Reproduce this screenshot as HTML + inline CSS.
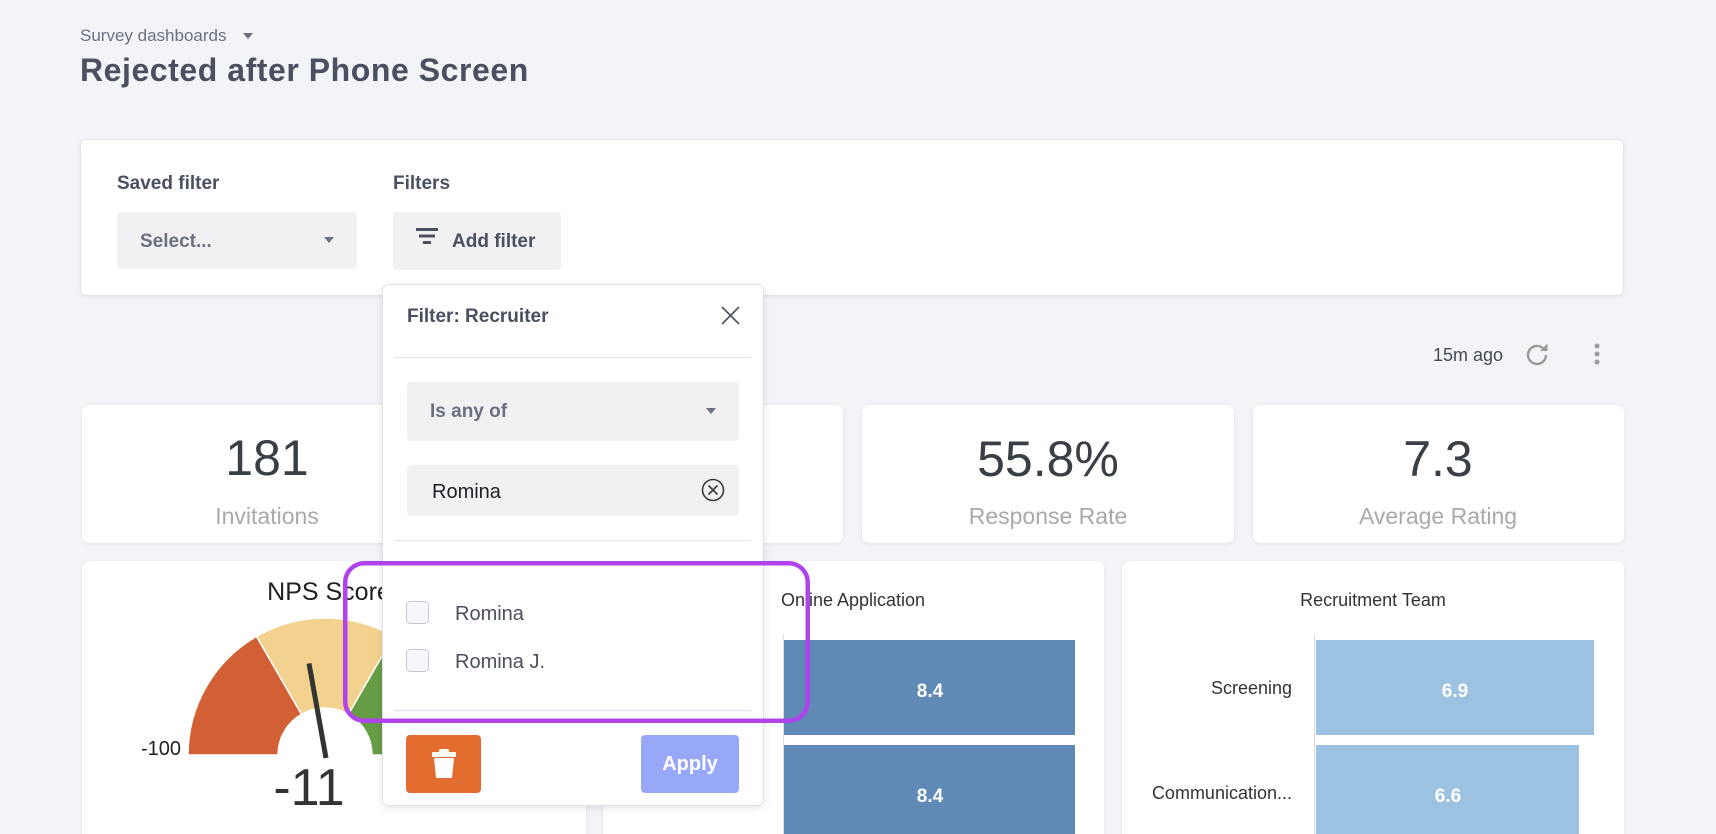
<!DOCTYPE html>
<html>
<head>
<meta charset="utf-8">
<style>
  html,body{margin:0;padding:0;background:#f3f4f8;}
  body{width:1716px;height:834px;overflow:hidden;}
  svg{display:block;}
  text{font-family:"Liberation Sans", Arial, sans-serif;}
</style>
</head>
<body>
<svg width="1716" height="834" viewBox="0 0 1716 834" xmlns="http://www.w3.org/2000/svg">
  <defs>
    <filter id="sh" x="-5%" y="-5%" width="110%" height="120%">
      <feDropShadow dx="0" dy="1" stdDeviation="2" flood-color="#000" flood-opacity="0.07"/>
    </filter>
    <filter id="sh2" x="-10%" y="-5%" width="120%" height="115%">
      <feDropShadow dx="0" dy="2" stdDeviation="4" flood-color="#000" flood-opacity="0.10"/>
    </filter>
  </defs>

  <rect x="0" y="0" width="1716" height="834" fill="#f3f4f8"/>

  <!-- Header -->
  <text x="80" y="41" font-size="17" fill="#6b7080">Survey dashboards</text>
  <polygon points="243,33 253,33 248,39" fill="#6b7080"/>
  <text x="80" y="81" font-size="32" font-weight="bold" fill="#4a5060" letter-spacing="0.55">Rejected after Phone Screen</text>

  <!-- Filter card -->
  <rect x="80.5" y="139.5" width="1543" height="156" rx="6" fill="#fff" stroke="#e4e5ea" filter="url(#sh)"/>
  <text x="117" y="189" font-size="19" font-weight="bold" fill="#4a5060">Saved filter</text>
  <text x="393" y="189" font-size="19" font-weight="bold" fill="#4a5060">Filters</text>
  <rect x="117" y="212" width="240" height="57" rx="4" fill="#f1f1f3"/>
  <text x="140" y="247" font-size="19" font-weight="bold" fill="#6b7080">Select...</text>
  <polygon points="324,237 334,237 329,243" fill="#6b7080"/>
  <rect x="393" y="212" width="168" height="58" rx="4" fill="#f1f1f3"/>
  <rect x="416" y="228" width="22" height="3" fill="#4a5060"/>
  <rect x="419" y="234.5" width="16" height="3" fill="#4a5060"/>
  <rect x="423" y="241" width="8" height="3" fill="#4a5060"/>
  <text x="452" y="247" font-size="19" font-weight="bold" fill="#4a5060">Add filter</text>

  <!-- toolbar -->
  <text x="1433" y="361" font-size="18" fill="#444a55">15m ago</text>
  <path d="M1543.4,348.6 A9,9 0 1,0 1546,355" fill="none" stroke="#9a9a9a" stroke-width="2.4"/>
  <polygon points="1540,351 1547.5,351 1547.5,343.5" fill="#9a9a9a"/>
  <circle cx="1597" cy="346" r="2.5" fill="#9a9a9a"/>
  <circle cx="1597" cy="354" r="2.5" fill="#9a9a9a"/>
  <circle cx="1597" cy="362" r="2.5" fill="#9a9a9a"/>

  <!-- KPI cards -->
  <rect x="82" y="405" width="371" height="138" rx="8" fill="#fff" filter="url(#sh)"/>
  <rect x="472" y="405" width="371" height="138" rx="8" fill="#fff" filter="url(#sh)"/>
  <rect x="862" y="405" width="372" height="138" rx="8" fill="#fff" filter="url(#sh)"/>
  <rect x="1253" y="405" width="371" height="138" rx="8" fill="#fff" filter="url(#sh)"/>

  <text x="267" y="475" font-size="50" text-anchor="middle" fill="#3a3f45">181</text>
  <text x="267" y="524" font-size="23" text-anchor="middle" fill="#a9a9a9">Invitations</text>
  <text x="657" y="475" font-size="50" text-anchor="middle" fill="#3a3f45">101</text>
  <text x="657" y="524" font-size="23" text-anchor="middle" fill="#a9a9a9">Responses</text>
  <text x="1048" y="476" font-size="50" text-anchor="middle" fill="#3a3f45">55.8%</text>
  <text x="1048" y="524" font-size="23" text-anchor="middle" fill="#a9a9a9">Response Rate</text>
  <text x="1438" y="476" font-size="50" text-anchor="middle" fill="#3a3f45">7.3</text>
  <text x="1438" y="524" font-size="23" text-anchor="middle" fill="#a9a9a9">Average Rating</text>

  <!-- Chart cards -->
  <rect x="82" y="561" width="504" height="300" rx="8" fill="#fff" filter="url(#sh)"/>
  <rect x="603" y="561" width="501" height="300" rx="8" fill="#fff" filter="url(#sh)"/>
  <rect x="1122" y="561" width="502" height="300" rx="8" fill="#fff" filter="url(#sh)"/>

  <!-- Gauge -->
  <text x="329" y="600" font-size="25" text-anchor="middle" fill="#222">NPS Score</text>
  <path d="M188,755 A137,137 0 0 1 256.5,636.4 L301.5,714.3 A47,47 0 0 0 278,755 Z" fill="#d36034" stroke="#fff" stroke-width="1.5"/>
  <path d="M256.5,636.4 A137,137 0 0 1 393.5,636.4 L348.5,714.3 A47,47 0 0 0 301.5,714.3 Z" fill="#f3d18e" stroke="#fff" stroke-width="1.5"/>
  <path d="M393.5,636.4 A137,137 0 0 1 462,755 L372,755 A47,47 0 0 0 348.5,714.3 Z" fill="#659c45" stroke="#fff" stroke-width="1.5"/>
  <line x1="326" y1="758" x2="309" y2="663.4" stroke="#333" stroke-width="5"/>
  <text x="181" y="755" font-size="20" text-anchor="end" fill="#222">-100</text>
  <text x="474" y="755" font-size="20" text-anchor="start" fill="#222">100</text>
  <text x="309" y="805" font-size="52" text-anchor="middle" fill="#333">-11</text>

  <!-- Online Application -->
  <text x="853" y="606" font-size="18" text-anchor="middle" fill="#333">Online Application</text>
  <line x1="783.5" y1="634" x2="783.5" y2="834" stroke="#d8dee8" stroke-width="1"/>
  <rect x="784" y="640" width="291" height="95" fill="#5f8ab5"/>
  <rect x="784" y="745" width="291" height="95" fill="#5f8ab5"/>
  <text x="930" y="697" font-size="19" font-weight="bold" text-anchor="middle" fill="#fff">8.4</text>
  <text x="930" y="802" font-size="19" font-weight="bold" text-anchor="middle" fill="#fff">8.4</text>

  <!-- Recruitment Team -->
  <text x="1373" y="606" font-size="18" text-anchor="middle" fill="#333">Recruitment Team</text>
  <line x1="1314.5" y1="634" x2="1314.5" y2="834" stroke="#d8dee8" stroke-width="1"/>
  <rect x="1316" y="640" width="278" height="95" fill="#9cc2e2"/>
  <rect x="1316" y="745" width="263" height="95" fill="#9cc2e2"/>
  <text x="1455" y="697" font-size="19" font-weight="bold" text-anchor="middle" fill="#fff">6.9</text>
  <text x="1448" y="802" font-size="19" font-weight="bold" text-anchor="middle" fill="#fff">6.6</text>
  <text x="1292" y="694" font-size="18" text-anchor="end" fill="#333">Screening</text>
  <text x="1292" y="799" font-size="18" text-anchor="end" fill="#333">Communication...</text>

  <!-- Popup -->
  <rect x="382.5" y="284.5" width="381" height="521" rx="6" fill="#fff" stroke="#e1e2e8" filter="url(#sh2)"/>
  <text x="407" y="322" font-size="19" font-weight="bold" fill="#4a5060">Filter: Recruiter</text>
  <line x1="722" y1="307" x2="739" y2="324" stroke="#4a5060" stroke-width="1.6"/>
  <line x1="739" y1="307" x2="722" y2="324" stroke="#4a5060" stroke-width="1.6"/>
  <line x1="394" y1="357.5" x2="751" y2="357.5" stroke="#e4e5ee" stroke-width="1.2"/>

  <rect x="407" y="382" width="332" height="59" rx="4" fill="#f1f1f3"/>
  <text x="430" y="417" font-size="19" font-weight="bold" fill="#6b7080">Is any of</text>
  <polygon points="706,408 716,408 711,414" fill="#6b7080"/>

  <rect x="407" y="465" width="332" height="51" rx="4" fill="#f1f1f3"/>
  <text x="432" y="498" font-size="20" fill="#1d1f24">Romina</text>
  <circle cx="713" cy="490" r="10.5" fill="none" stroke="#3a3a3a" stroke-width="1.6"/>
  <line x1="708.5" y1="485.5" x2="717.5" y2="494.5" stroke="#3a3a3a" stroke-width="1.6"/>
  <line x1="717.5" y1="485.5" x2="708.5" y2="494.5" stroke="#3a3a3a" stroke-width="1.6"/>

  <line x1="394" y1="540.5" x2="751" y2="540.5" stroke="#e4e5ee" stroke-width="1.2"/>

  <rect x="406.5" y="601.5" width="22" height="22" rx="4" fill="#f7f7fb" stroke="#c6c9d6"/>
  <text x="455" y="620" font-size="20" fill="#4a5060">Romina</text>
  <rect x="406.5" y="649.5" width="22" height="22" rx="4" fill="#f7f7fb" stroke="#c6c9d6"/>
  <text x="455" y="668" font-size="20" fill="#4a5060">Romina J.</text>

  <line x1="394" y1="710.5" x2="751" y2="710.5" stroke="#e4e5ee" stroke-width="1.5"/>

  <rect x="406" y="735" width="75" height="58" rx="4" fill="#e26c2d"/>
  <rect x="439" y="749" width="10" height="5" rx="2" fill="#fff"/>
  <rect x="432" y="752" width="24" height="5" rx="1" fill="#fff"/>
  <polygon points="434,758 454,758 452,778 436,778" fill="#fff"/>

  <rect x="641" y="735" width="98" height="58" rx="4" fill="#97a8f8"/>
  <text x="690" y="770" font-size="20" font-weight="bold" text-anchor="middle" fill="#fff">Apply</text>

  <!-- Highlight box -->
  <rect x="345.25" y="563.25" width="462.5" height="157.5" rx="19" fill="none" stroke="#b043ec" stroke-width="4.5"/>
</svg>
</body>
</html>
